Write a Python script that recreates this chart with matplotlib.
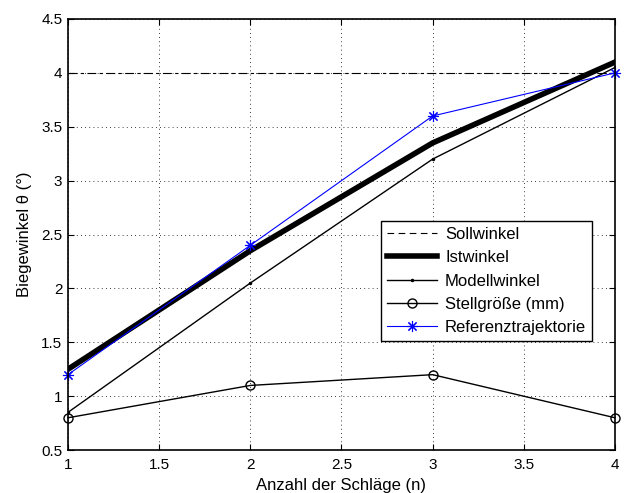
import matplotlib
matplotlib.use("Agg")
from matplotlib import pyplot as plt
from matplotlib.lines import Line2D

plt.rcParams['font.family'] = ['Liberation Sans', 'DejaVu Sans']
plt.rcParams['font.size'] = 11

schlaege = [1, 2, 3, 4]
sollwinkel = [4.0, 4.0, 4.0, 4.0]
istwinkel = [1.25, 2.35, 3.35, 4.1]
modellwinkel = [0.85, 2.05, 3.2, 4.05]
stellgroesse = [0.8, 1.1, 1.2, 0.8]
referenz = [1.2, 2.4, 3.6, 4.0]

# asterisk like the matlab '*' marker
stern = (8, 2, 0)

fig = plt.figure(figsize=(6.35, 4.93), dpi=100)
ax = fig.add_axes([0.107, 0.087, 0.8615, 0.8745])

ax.plot(schlaege, sollwinkel, color='black', lw=0.8, dashes=(8, 3, 3, 3))
ax.plot(schlaege, istwinkel, color='black', lw=4)
ax.plot(schlaege, modellwinkel, color='black', lw=1, marker='.', ms=3)
ax.plot(schlaege, stellgroesse, color='black', lw=1, marker='o', ms=6.5,
        mfc='none', mew=1, clip_on=False)
ax.plot(schlaege, referenz, color='blue', lw=0.8, marker=stern, ms=8,
        mew=0.8, clip_on=False)

ax.set_xlim(1, 4)
ax.set_ylim(0.5, 4.5)
ax.set_xticks([1, 1.5, 2, 2.5, 3, 3.5, 4])
ax.set_xticklabels(['1', '1.5', '2', '2.5', '3', '3.5', '4'])
ax.set_yticks([0.5, 1, 1.5, 2, 2.5, 3, 3.5, 4, 4.5])
ax.set_yticklabels(['0.5', '1', '1.5', '2', '2.5', '3', '3.5', '4', '4.5'])
ax.tick_params(direction='in', top=True, right=True, length=4, width=0.8)
ax.tick_params(axis='x', pad=6)
ax.tick_params(axis='y', pad=4)
ax.grid(True, color='black', linestyle=(0, (1, 4)), lw=0.6)
for s in ax.spines.values():
    s.set_linewidth(1.2)

ax.set_xlabel('Anzahl der Schläge (n)', fontsize=12, labelpad=4)
ax.set_ylabel('Biegewinkel θ (°)', fontsize=12, labelpad=7)

handles = [
    Line2D([], [], color='black', lw=0.8, linestyle='--', dashes=(6, 4)),
    Line2D([], [], color='black', lw=4),
    Line2D([], [], color='black', lw=1, marker='.', ms=3),
    Line2D([], [], color='black', lw=1, marker='o', ms=6.5, mfc='none'),
    Line2D([], [], color='blue', lw=0.8, marker=stern, ms=8, mew=0.8),
]
labels = ['Sollwinkel', 'Istwinkel', 'Modellwinkel', 'Stellgröße (mm)',
          'Referenztrajektorie']
leg = ax.legend(handles, labels, loc='lower right', fontsize=12,
                bbox_to_anchor=(0.958, 0.253), fancybox=False,
                framealpha=1, edgecolor='black', handlelength=3.0,
                borderpad=0.35, labelspacing=0.5, handletextpad=0.5,
                borderaxespad=0)
leg.get_frame().set_linewidth(1)

fig.savefig('out.png', dpi=100)
